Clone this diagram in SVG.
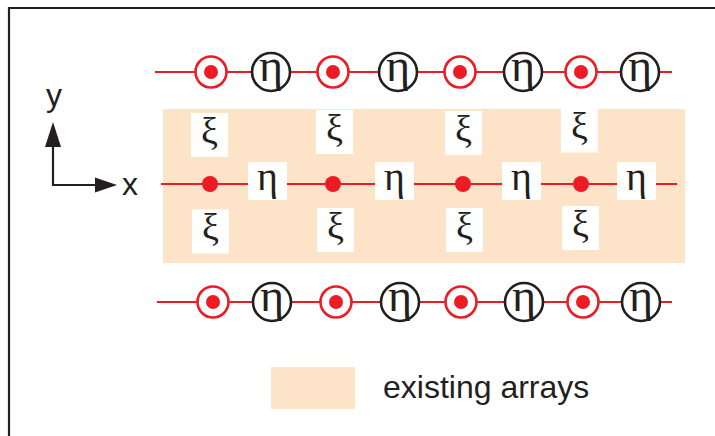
<svg xmlns="http://www.w3.org/2000/svg" width="715" height="436" viewBox="0 0 715 436">
  <style>
    .wire { stroke: #ed1c24; stroke-width: 2.2; fill: none; }
    .ring { fill: #fff; stroke: #ed1c24; stroke-width: 2.6; }
    .dot { fill: #ed1c24; }
    .eta-c { fill: #fff; stroke: #231f20; stroke-width: 2.6; }
    .box { fill: #fff; }
    .greek { font-family: "Liberation Serif", "DejaVu Serif", serif; fill: #231f20; text-anchor: middle; }
    .big { font-size: 46px; }
    .mid { font-size: 40px; }
    .xi { font-size: 38px; }
    .sans { font-family: "Liberation Sans", Arial, sans-serif; font-size: 32px; fill: #231f20; }
    .axis { stroke: #231f20; stroke-width: 2.2; fill: none; }
  </style>
  <defs>
    <g id="redNode">
      <circle class="ring" r="15.5"/>
      <circle class="dot" r="7"/>
    </g>
    <g id="etaNode">
      <circle class="eta-c" r="19"/>
      <text class="greek big" y="9">η</text>
    </g>
    <g id="etaBox">
      <rect class="box" x="-19.5" y="-19" width="39" height="38"/>
      <text class="greek mid" y="9">η</text>
    </g>
    <g id="xiBox">
      <rect class="box" x="-18.5" y="-22" width="37" height="44"/>
      <text class="greek xi" y="8.5">ξ</text>
    </g>
  </defs>

  <!-- frame -->
  <path d="M9,436 V8 H715" fill="none" stroke="#231f20" stroke-width="2.2"/>

  <!-- shaded region and legend -->
  <rect x="163" y="109" width="522" height="154" fill="#fde4c9"/>
  <g id="legend">
    <rect x="271" y="367" width="84" height="42" fill="#fde4c9"/>
    <text class="sans" x="383" y="398">existing arrays</text>
  </g>

  <!-- axes -->
  <g id="axes">
    <path class="axis" d="M53,147 V185 H96"/>
    <polygon points="53,122 45,147 61,147" fill="#231f20"/>
    <polygon points="117,185 95,177.5 95,192.5" fill="#231f20"/>
    <text class="sans" x="54" y="106" text-anchor="middle">y</text>
    <text class="sans" x="130" y="195" text-anchor="middle">x</text>
  </g>

  <!-- connectors -->
  <g id="connectors">
    <line class="wire" x1="155" y1="72" x2="672" y2="72"/>
    <line class="wire" x1="161" y1="184" x2="677" y2="184"/>
    <line class="wire" x1="157" y1="302" x2="672" y2="302"/>
  </g>

  <!-- top row -->
  <g id="top-r1"><use href="#redNode" x="211" y="72"/></g>
  <g id="top-e1"><use href="#etaNode" x="271" y="72"/></g>
  <g id="top-r2"><use href="#redNode" x="333" y="72"/></g>
  <g id="top-e2"><use href="#etaNode" x="398" y="72"/></g>
  <g id="top-r3"><use href="#redNode" x="460" y="72"/></g>
  <g id="top-e3"><use href="#etaNode" x="523" y="72"/></g>
  <g id="top-r4"><use href="#redNode" x="581" y="72"/></g>
  <g id="top-e4"><use href="#etaNode" x="640" y="72"/></g>

  <!-- middle row -->
  <g id="mid-d1"><circle class="dot" cx="210" cy="184" r="8"/></g>
  <g id="mid-e1"><use href="#etaBox" x="267.5" y="181"/></g>
  <g id="mid-d2"><circle class="dot" cx="333" cy="184" r="8"/></g>
  <g id="mid-e2"><use href="#etaBox" x="394.5" y="181"/></g>
  <g id="mid-d3"><circle class="dot" cx="463" cy="184" r="8"/></g>
  <g id="mid-e3"><use href="#etaBox" x="521.5" y="181"/></g>
  <g id="mid-d4"><circle class="dot" cx="581" cy="184" r="8"/></g>
  <g id="mid-e4"><use href="#etaBox" x="636.5" y="181"/></g>

  <g id="xi-t1"><use href="#xiBox" x="209.5" y="135"/></g>
  <g id="xi-t2"><use href="#xiBox" x="334.5" y="132"/></g>
  <g id="xi-t3"><use href="#xiBox" x="463.5" y="133"/></g>
  <g id="xi-t4"><use href="#xiBox" x="579.5" y="130.5"/></g>
  <g id="xi-b1"><use href="#xiBox" x="210.5" y="231.5"/></g>
  <g id="xi-b2"><use href="#xiBox" x="335.5" y="230"/></g>
  <g id="xi-b3"><use href="#xiBox" x="464.5" y="230"/></g>
  <g id="xi-b4"><use href="#xiBox" x="580.5" y="228"/></g>

  <!-- bottom row -->
  <g id="bot-r1"><use href="#redNode" x="213" y="302"/></g>
  <g id="bot-e1"><use href="#etaNode" x="272" y="302"/></g>
  <g id="bot-r2"><use href="#redNode" x="336" y="302"/></g>
  <g id="bot-e2"><use href="#etaNode" x="400" y="302"/></g>
  <g id="bot-r3"><use href="#redNode" x="461" y="302"/></g>
  <g id="bot-e3"><use href="#etaNode" x="524" y="302"/></g>
  <g id="bot-r4"><use href="#redNode" x="583" y="302"/></g>
  <g id="bot-e4"><use href="#etaNode" x="641" y="302"/></g>
</svg>
